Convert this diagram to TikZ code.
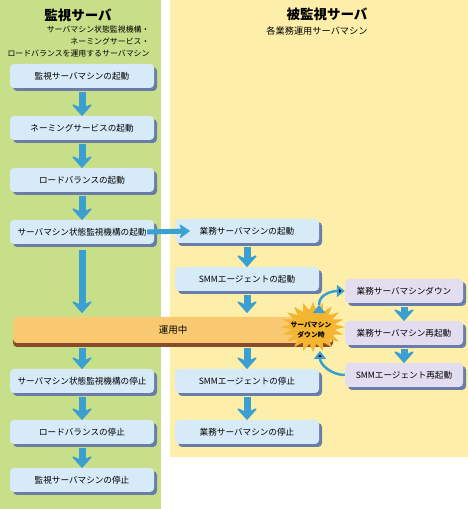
\documentclass[tikz,border=0pt]{standalone}
\usepackage{fontspec}
\setmainfont{Noto Sans CJK JP}
\usetikzlibrary{positioning,shadows,arrows.meta}

\definecolor{watchgreen}{HTML}{C8DF8A}
\definecolor{hostyellow}{HTML}{FDEFAA}
\definecolor{stepblue}{HTML}{D7EAF8}
\definecolor{steppurple}{HTML}{E2DDEF}
\definecolor{stepshade}{HTML}{6A7DA8}
\definecolor{flowblue}{HTML}{3B9FD1}
\definecolor{runorange}{HTML}{F8C971}
\definecolor{runbrown}{HTML}{8A4B2B}
\definecolor{burstgold}{HTML}{F4B530}

\tikzset{
  stepbox/.style={rectangle, rounded corners=4pt, fill=stepblue,
    minimum width=144pt, minimum height=24pt, inner sep=1pt,
    font=\fontsize{8.6}{10}\selectfont,
    general shadow={fill=stepshade, shadow xshift=3pt, shadow yshift=-3pt}},
  downbox/.style={stepbox, fill=steppurple, minimum width=118pt},
  flow/.style={draw=flowblue, line width=7pt,
    -{Stealth[length=13pt,width=23pt,inset=5pt,line width=1.5pt,round]}},
  loopback/.style={draw=flowblue, line width=2.5pt, -{Triangle[length=8pt,width=12pt]}},
}

\begin{document}
\begin{tikzpicture}[x=1pt, y=1pt, node distance=52pt, on grid, auto]
    \useasboundingbox (0,0) rectangle (468,509);
    \fill[watchgreen] (0,0) rectangle (161,509);
    \fill[hostyellow] (170,52) rectangle (468,509);

    % headings
    \node[font=\bfseries\fontsize{13.5}{15}\selectfont] (wtitle) at (78,494) {監視サーバ};
    \node[font=\fontsize{7.9}{12}\selectfont, align=right, anchor=east] (wsub) at (153,467)
        {サーバマシン状態監視機構・\\ネーミングサービス・\\ロードバランスを運用するサーバマシン};
    \node[font=\bfseries\fontsize{13.5}{15}\selectfont] (htitle) at (327,495) {被監視サーバ};
    \node[font=\fontsize{9.2}{11}\selectfont] (hsub) at (317,478) {各業務運用サーバマシン};

    % running bar and burst
    \node[rectangle, rounded corners=4pt, fill=runorange, minimum width=320pt, minimum height=26pt,
          font=\fontsize{9.5}{11}\selectfont,
          general shadow={fill=runbrown, shadow yshift=-4pt}] (run) at (173,179) {運用中};
    \fill[burstgold] plot[domain=0:39, samples=40, variable=\k]
        ({313+(mod(\k,2)==0 ? 32 : 22)*cos(9*\k)}, {182+(mod(\k,2)==0 ? 25 : 17)*sin(9*\k)}) -- cycle;
    \node[font=\bfseries\fontsize{6.8}{10}\selectfont, align=center] (down) at (311,179) {サーバマシン\\ダウン時};
    \coordinate (downtop) at (319,204);
    \coordinate (downbot) at (320,158);

    % watching server
    \node[stepbox] (l1) at (82,433)     {監視サーバマシンの起動};
    \node[stepbox] (l2) [below=of l1]   {ネーミングサービスの起動};
    \node[stepbox] (l3) [below=of l2]   {ロードバランスの起動};
    \node[stepbox] (l4) [below=of l3]   {サーバマシン状態監視機構の起動};
    \node[stepbox] (l5) at (82,128)     {サーバマシン状態監視機構の停止};
    \node[stepbox] (l6) [below=51pt of l5] {ロードバランスの停止};
    \node[stepbox] (l7) [below=48pt of l6] {監視サーバマシンの停止};

    % watched server
    \node[stepbox] (r1) at (247,278)    {業務サーバマシンの起動};
    \node[stepbox] (r2) [below=48pt of r1] {SMMエージェントの起動};
    \node[stepbox] (r3) at (247,128)    {SMMエージェントの停止};
    \node[stepbox] (r4) [below=51pt of r3] {業務サーバマシンの停止};

    \node[downbox] (p1) at (404,218)    {業務サーバマシンダウン};
    \node[downbox] (p2) [below=42pt of p1] {業務サーバマシン再起動};
    \node[downbox] (p3) [below=42pt of p2] {SMMエージェント再起動};

    \draw[flow] ([yshift=-4pt]l1.south) -- (l2.north);
    \draw[flow] ([yshift=-4pt]l2.south) -- (l3.north);
    \draw[flow] ([yshift=-4pt]l3.south) -- (l4.north);
    \draw[flow] ([yshift=-6pt]l4.south) -- ([yshift=4pt]l4 |- run.north);
    \draw[flow] ([yshift=-5pt]run.south -| l5) -- (l5.north);
    \draw[flow] ([yshift=-4pt]l5.south) -- (l6.north);
    \draw[flow] ([yshift=-4pt]l6.south) -- (l7.north);
    \draw[flow] ([yshift=-4pt]r1.south) -- (r2.north);
    \draw[flow] ([yshift=-4pt]r2.south) -- ([yshift=4pt]r2 |- run.north);
    \draw[flow] ([yshift=-5pt]run.south -| r3) -- (r3.north);
    \draw[flow] ([yshift=-4pt]r3.south) -- (r4.north);
    \draw[flow] ([yshift=-4pt]p1.south) -- (p2.north);
    \draw[flow] ([yshift=-4pt]p2.south) -- (p3.north);
    \draw[flow, line width=5pt, -{Stealth[length=11pt,width=15pt,inset=3pt,line width=1pt,round]}]
              ([xshift=-7pt]l4.east) -- ([xshift=15pt]r1.west);
    \path[loopback]
              (downtop) edge[out=90, in=180] (p1)
              (p3) edge[out=180, in=-90] (downbot);
\end{tikzpicture}
\end{document}
